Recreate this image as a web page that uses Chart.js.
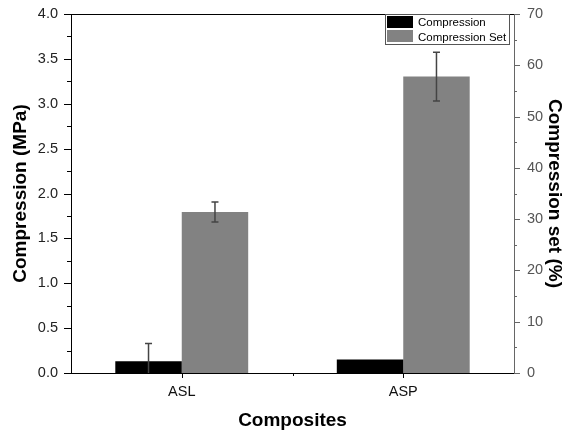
<!DOCTYPE html>
<html>
<head>
<meta charset="utf-8">
<script src="https://cdn.jsdelivr.net/npm/chart.js@4/dist/chart.umd.min.js"></script>
<style>
  html, body { margin: 0; padding: 0; background: #fff; }
</style>
</head>
<body>
<canvas id="chart" width="566" height="432"></canvas>
<script>
// Data
const categories = ['ASL', 'ASP'];
const compression = [0.13, 0.15];          // MPa, left axis
const compressionErr = [0.2, 0];
const compressionSet = [31.4, 57.8];       // %, right axis
const compressionSetErr = [1.95, 4.75];
const leftTicks = [0, 0.5, 1, 1.5, 2, 2.5, 3, 3.5, 4];
const rightTicks = [0, 10, 20, 30, 40, 50, 60, 70];

const FONT = "'Liberation Sans', Arial, sans-serif";

// Draws error bars for one dataset
function drawErrors(chart, dsIndex, values, errs, scale) {
  const ctx = chart.ctx;
  const meta = chart.getDatasetMeta(dsIndex);
  ctx.save();
  ctx.strokeStyle = '#444';
  ctx.lineWidth = 1.5;
  meta.data.forEach((bar, i) => {
    if (!errs[i]) return;
    const top = scale.getPixelForValue(values[i] + errs[i]);
    const bot = scale.getPixelForValue(Math.max(values[i] - errs[i], scale.min));
    ctx.beginPath();
    ctx.moveTo(bar.x, top);
    ctx.lineTo(bar.x, bot);
    ctx.moveTo(bar.x - 3.5, top);
    ctx.lineTo(bar.x + 3.5, top);
    if (values[i] - errs[i] > scale.min) {
      ctx.moveTo(bar.x - 3.5, bot);
      ctx.lineTo(bar.x + 3.5, bot);
    }
    ctx.stroke();
  });
  ctx.restore();
}

// Ticks (major + minor), top frame line, error bars and the inset legend
const extrasPlugin = {
  id: 'extras',
  afterDatasetsDraw(chart) {
    drawErrors(chart, 0, compression, compressionErr, chart.scales.y);
    drawErrors(chart, 1, compressionSet, compressionSetErr, chart.scales.y1);
  },
  afterDraw(chart) {
    const ctx = chart.ctx;
    const area = chart.chartArea;
    const yL = chart.scales.y, yR = chart.scales.y1, x = chart.scales.x;
    ctx.save();
    ctx.lineWidth = 1;

    // top frame
    ctx.strokeStyle = '#000';
    ctx.beginPath();
    ctx.moveTo(area.left, area.top + 0.5);
    ctx.lineTo(area.right, area.top + 0.5);
    ctx.stroke();

    // left axis ticks
    ctx.beginPath();
    for (let v = 0; v <= 4.001; v += 0.25) {
      const py = Math.round(yL.getPixelForValue(v)) + 0.5;
      const len = Math.abs(v * 2 - Math.round(v * 2)) < 0.01 ? 7 : 4;
      ctx.moveTo(area.left - len, py);
      ctx.lineTo(area.left, py);
    }
    ctx.stroke();

    // right axis ticks
    ctx.strokeStyle = '#666';
    ctx.beginPath();
    for (let v = 0; v <= 70; v += 5) {
      const py = Math.round(yR.getPixelForValue(v)) + 0.5;
      const len = v % 10 === 0 ? 6 : 3;
      ctx.moveTo(area.right, py);
      ctx.lineTo(area.right + len, py);
    }
    ctx.stroke();

    // x axis ticks
    ctx.strokeStyle = '#000';
    ctx.beginPath();
    categories.forEach((c, i) => {
      const px = Math.round(x.getPixelForValue(i)) + 0.5;
      ctx.moveTo(px, area.bottom);
      ctx.lineTo(px, area.bottom + 5);
    });
    const mid = Math.round((area.left + area.right) / 2) + 0.5;
    ctx.moveTo(mid, area.bottom);
    ctx.lineTo(mid, area.bottom + 3);
    ctx.stroke();

    // legend, hanging from the top frame
    const lx = 385, ly = Math.round(area.top);
    ctx.fillStyle = '#fff';
    ctx.fillRect(lx, ly, 124, 30);
    ctx.strokeStyle = '#555';
    ctx.strokeRect(lx + 0.5, ly + 0.5, 124, 30);
    ctx.fillStyle = '#000';
    ctx.fillRect(lx + 2, ly + 2, 26, 12);
    ctx.fillStyle = '#828282';
    ctx.fillRect(lx + 2, ly + 16, 26, 12);
    ctx.fillStyle = '#000';
    ctx.font = '11.5px ' + FONT;
    ctx.textBaseline = 'middle';
    ctx.textAlign = 'left';
    ctx.fillText('Compression', lx + 33, ly + 9);
    ctx.fillText('Compression Set', lx + 33, ly + 24);
    ctx.restore();
  }
};

const ctx = document.getElementById('chart').getContext('2d');
new Chart(ctx, {
  type: 'bar',
  data: {
    labels: categories,
    datasets: [{
      label: 'Compression',
      data: compression,
      backgroundColor: '#000000',
      yAxisID: 'y',
      categoryPercentage: 0.6,
      barPercentage: 1
    }, {
      label: 'Compression Set',
      data: compressionSet,
      backgroundColor: '#828282',
      yAxisID: 'y1',
      categoryPercentage: 0.6,
      barPercentage: 1
    }]
  },
  options: {
    responsive: false,
    animation: false,
    devicePixelRatio: 1,
    layout: { padding: { top: 14, left: 0, right: 0, bottom: 0 } },
    plugins: {
      legend: { display: false },
      tooltip: { enabled: false }
    },
    scales: {
      x: {
        grid: { display: false },
        border: { display: true, color: '#000', width: 1 },
        ticks: { color: '#111', padding: 2, font: { family: FONT, size: 14.5 } },
        title: {
          display: true, text: 'Composites', color: '#000',
          font: { family: FONT, size: 19, weight: 'bold' },
          padding: { top: 0, bottom: 0 }
        },
        afterFit(scale) { scale.height = 59; }
      },
      y: {
        position: 'left',
        min: 0, max: 4,
        afterBuildTicks(scale) { scale.ticks = leftTicks.map(v => ({ value: v })); },
        grid: { display: false },
        border: { display: true, color: '#000', width: 1 },
        ticks: {
          color: '#222', padding: 5,
          font: { family: FONT, size: 14.5 },
          callback: v => Number(v).toFixed(1)
        },
        title: {
          display: true, text: 'Compression (MPa)', color: '#000',
          font: { family: FONT, size: 19, weight: 'bold' },
          padding: { top: 9, bottom: 0 }
        },
        afterFit(scale) { scale.width = 71; }
      },
      y1: {
        position: 'right',
        min: 0, max: 70,
        afterBuildTicks(scale) { scale.ticks = rightTicks.map(v => ({ value: v })); },
        grid: { display: false },
        border: { display: true, color: '#666', width: 1 },
        ticks: {
          color: '#555', padding: 5,
          font: { family: FONT, size: 14.5 }
        },
        title: {
          display: true, text: 'Compression set (%)', color: '#000',
          font: { family: FONT, size: 19, weight: 'bold' },
          padding: { top: 0, bottom: 0 }
        },
        afterFit(scale) { scale.width = 52; }
      }
    }
  },
  plugins: [extrasPlugin]
});
</script>
</body>
</html>
